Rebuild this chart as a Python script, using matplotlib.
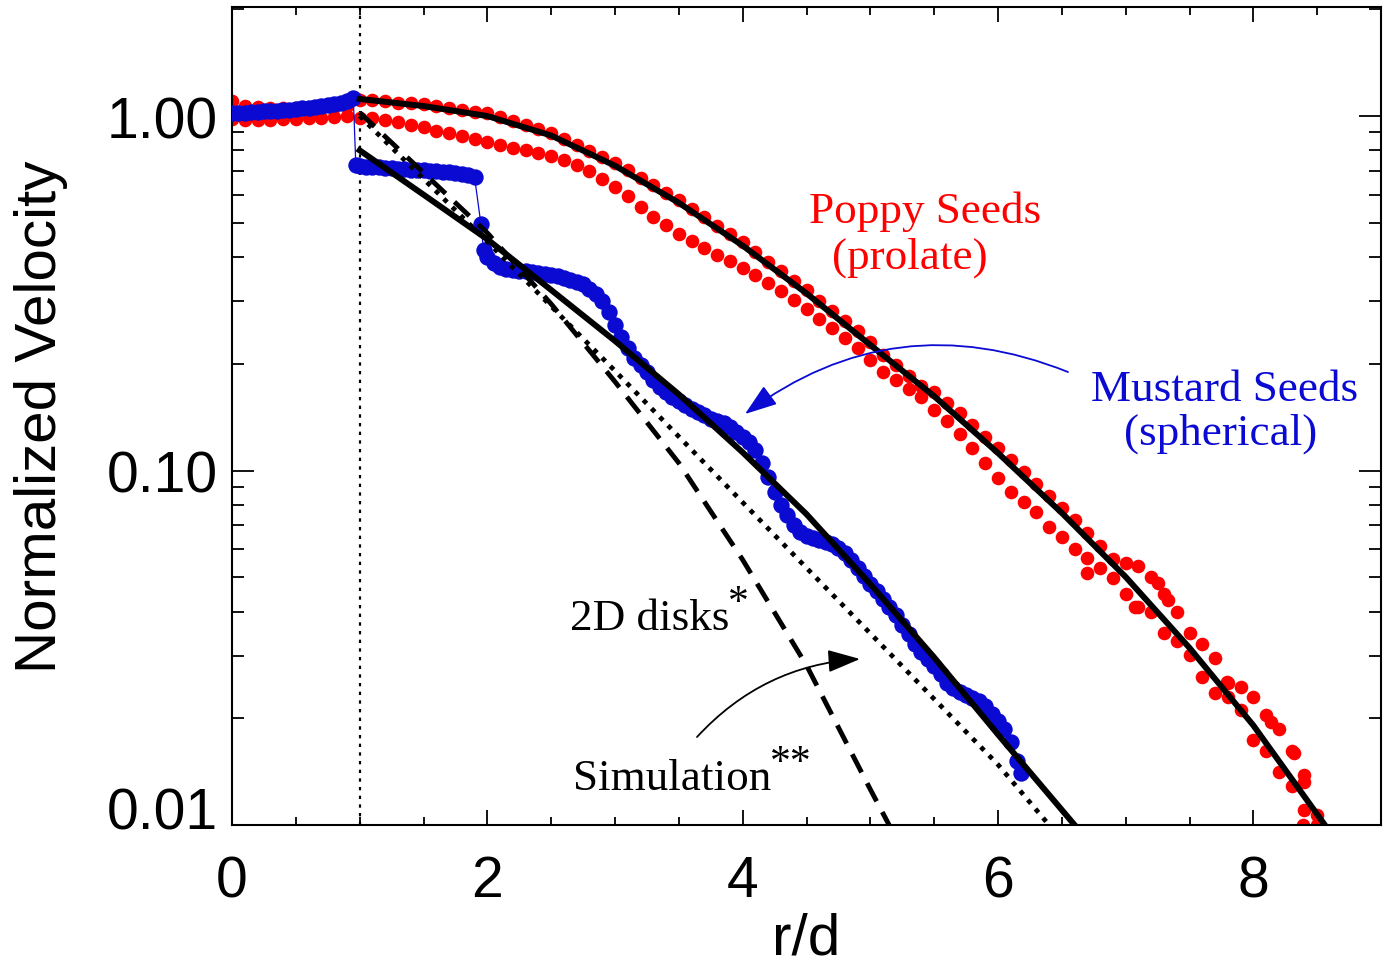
import numpy as np
import matplotlib
matplotlib.use("Agg")
import matplotlib.pyplot as plt
from matplotlib.ticker import FixedLocator, LogLocator, NullFormatter
from matplotlib.transforms import ScaledTranslation
from matplotlib.patches import FancyArrowPatch

# ---------------- data ----------------
# Poppy seeds (prolate): two runs sampled on the same r/d grid
poppy_x = [0.0, 0.1, 0.2, 0.3, 0.4, 0.5, 0.6, 0.7, 0.8, 0.9,
           1.0, 1.1, 1.2, 1.3, 1.4, 1.5, 1.6, 1.7, 1.8, 1.9,
           2.0, 2.1, 2.2, 2.3, 2.4, 2.5, 2.6, 2.7, 2.8, 2.9,
           3.0, 3.1, 3.2, 3.3, 3.4, 3.5, 3.6, 3.7, 3.8, 3.9,
           4.0, 4.1, 4.2, 4.3, 4.4, 4.5, 4.6, 4.7, 4.8, 4.9,
           5.0, 5.1, 5.2, 5.3, 5.4, 5.5, 5.6, 5.7, 5.8, 5.9,
           6.0, 6.1, 6.2, 6.3, 6.4, 6.5, 6.6, 6.7, 6.8, 6.9,
           7.0, 7.1, 7.2, 7.3, 7.4, 7.5, 7.6, 7.7, 7.8, 7.9,
           8.0, 8.1, 8.2, 8.3, 8.4, 8.5]
poppy_run1 = [1.10, 1.07, 1.06, 1.05, 1.05, 1.05, 1.05, 1.05, 1.06, 1.07,
              1.11, 1.11, 1.10, 1.09, 1.085, 1.08, 1.065, 1.05, 1.038, 1.025,
              1.019, 0.993, 0.968, 0.944, 0.920, 0.897, 0.863, 0.830, 0.798, 0.767,
              0.738, 0.703, 0.670, 0.638, 0.608, 0.579, 0.548, 0.519, 0.491, 0.465,
              0.440, 0.413, 0.388, 0.365, 0.343, 0.322, 0.301, 0.282, 0.264, 0.247,
              0.231, 0.212, 0.198, 0.185, 0.173, 0.166, 0.155, 0.145, 0.134, 0.124,
              0.116, 0.107, 0.0993, 0.0918, 0.0849, 0.0785, 0.0723, 0.0665, 0.0612, 0.0564,
              0.0550, 0.0537, 0.0501, 0.0447, 0.0398, 0.0347, 0.0324, 0.0295, 0.0251, 0.0245,
              0.0229, 0.0204, 0.0186, 0.0162, 0.0138, 0.0107]
poppy_run2 = [0.98, 0.975, 0.975, 0.975, 0.98, 0.98, 0.985, 0.99, 0.995, 1.0,
              0.99, 0.985, 0.975, 0.96, 0.945, 0.93, 0.91, 0.893, 0.876, 0.86,
              0.845, 0.83, 0.815, 0.80, 0.785, 0.77, 0.75, 0.728, 0.70, 0.665,
              0.63, 0.595, 0.555, 0.52, 0.492, 0.466, 0.445, 0.425, 0.405, 0.39,
              0.373, 0.355, 0.337, 0.32, 0.302, 0.285, 0.268, 0.252, 0.237, 0.222,
              0.205, 0.19, 0.18, 0.17, 0.161, 0.148, 0.138, 0.127, 0.116, 0.105,
              0.095, 0.087, 0.0815, 0.0765, 0.0695, 0.065, 0.060, 0.0565, 0.053, 0.0497,
              0.0447, 0.0412, 0.0398, 0.0347, 0.0331, 0.0302, 0.0261, 0.0235, 0.0229, 0.0211,
              0.0174, 0.0162, 0.0141, 0.0129, 0.0110, 0.0100]
poppy_extra_x = [6.70, 7.07, 7.25, 7.33, 7.79, 8.14, 8.32, 8.40, 8.39]
poppy_extra_v = [0.0515, 0.0413, 0.0483, 0.0432, 0.0253, 0.0195, 0.0160, 0.0132, 0.0100]

# Mustard seeds (spherical)
mustard_x = [0.0, 0.05, 0.1, 0.15, 0.2, 0.25, 0.3, 0.35, 0.4, 0.45,
             0.5, 0.55, 0.6, 0.65, 0.7, 0.75, 0.8, 0.85, 0.9, 0.95,
             0.97, 1.0, 1.05, 1.1, 1.15, 1.2, 1.25, 1.3, 1.35, 1.4,
             1.45, 1.5, 1.55, 1.6, 1.65, 1.7, 1.75, 1.8, 1.85, 1.9,
             1.95, 1.97, 2.0, 2.05, 2.1, 2.15, 2.2, 2.25, 2.3, 2.35,
             2.4, 2.45, 2.5, 2.55, 2.6, 2.65, 2.7, 2.75, 2.8, 2.85,
             2.9, 2.95, 3.0, 3.05, 3.1, 3.15, 3.2, 3.25, 3.3, 3.35,
             3.4, 3.45, 3.5, 3.55, 3.6, 3.65, 3.7, 3.75, 3.8, 3.85,
             3.9, 3.95, 4.0, 4.05, 4.1, 4.15, 4.2, 4.25, 4.3, 4.35,
             4.4, 4.45, 4.5, 4.55, 4.6, 4.65, 4.7, 4.75, 4.8, 4.85,
             4.9, 4.95, 5.0, 5.05, 5.1, 5.15, 5.2, 5.25, 5.3, 5.35,
             5.4, 5.45, 5.5, 5.55, 5.6, 5.65, 5.7, 5.75, 5.8, 5.85,
             5.9, 5.95, 6.0, 6.05, 6.1, 6.15, 6.18]
mustard_v = [1.02, 1.02, 1.022, 1.025, 1.027, 1.03, 1.033, 1.036, 1.04, 1.043,
             1.047, 1.05, 1.055, 1.06, 1.066, 1.072, 1.08, 1.09, 1.105, 1.125,
             0.728, 0.722, 0.72, 0.718, 0.716, 0.714, 0.712, 0.71, 0.708, 0.706,
             0.704, 0.702, 0.70, 0.698, 0.696, 0.693, 0.69, 0.686, 0.68, 0.672,
             0.495, 0.42, 0.40, 0.385, 0.375, 0.37, 0.368, 0.366, 0.365, 0.363,
             0.36, 0.358, 0.355, 0.353, 0.35, 0.345, 0.34, 0.335, 0.325, 0.315,
             0.30, 0.28, 0.258, 0.238, 0.222, 0.208, 0.199, 0.189, 0.18, 0.172,
             0.166, 0.161, 0.157, 0.153, 0.149, 0.146, 0.143, 0.14, 0.138, 0.136,
             0.133, 0.128, 0.124, 0.12, 0.114, 0.105, 0.096, 0.087, 0.08, 0.075,
             0.07, 0.067, 0.0655, 0.0645, 0.0638, 0.063, 0.062, 0.0605, 0.0585, 0.056,
             0.053, 0.0505, 0.048, 0.0457, 0.0435, 0.0412, 0.039, 0.0366, 0.0345, 0.0325,
             0.0307, 0.0293, 0.028, 0.0266, 0.0252, 0.0243, 0.0237, 0.0232, 0.0228, 0.0224,
             0.0216, 0.0206, 0.0196, 0.0186, 0.0172, 0.0152, 0.0140]

# Fitted curves
poppy_fit_x = [1.0, 1.5, 2.0, 2.5, 3.0, 3.5, 4.0, 4.5, 5.0, 5.5, 6.0, 6.5, 7.0, 7.5, 8.0, 8.56]
poppy_fit_v = [1.117, 1.067, 1.0, 0.881, 0.724, 0.569, 0.431, 0.316, 0.226, 0.162,
               0.112, 0.0759, 0.0501, 0.0316, 0.0191, 0.010]
mustard_fit_x = [1.0, 1.5, 2.0, 2.5, 3.0, 3.5, 4.0, 4.5, 5.0, 5.5, 6.0, 6.6]
mustard_fit_v = [0.80, 0.60, 0.449, 0.323, 0.232, 0.164, 0.1125, 0.0753, 0.0478, 0.0297, 0.018, 0.010]

# 2D disks (dashed) and simulation (dotted)
disks_x = [1.0, 1.5, 2.0, 2.5, 3.0, 3.5, 4.0, 4.5, 5.0, 5.16]
disks_v = [1.023, 0.692, 0.468, 0.295, 0.178, 0.105, 0.056, 0.0282, 0.0126, 0.0098]
sim_x = [1.0, 2.0, 3.0, 4.0, 5.0, 6.0, 6.4]
sim_v = [1.0, 0.442, 0.191, 0.0813, 0.0347, 0.0148, 0.010]

x_major = [0, 2, 4, 6, 8]
x_minor = [0.5, 1, 1.5, 2.5, 3, 3.5, 4.5, 5, 5.5, 6.5, 7, 7.5, 8.5]
y_major = [0.01, 0.1, 1.0]
y_labels = ["0.01", "0.10", "1.00"]
x_labels = ["0", "2", "4", "6", "8"]

# ---------------- figure ----------------
RED = "#ff0000"
BLUE = "#0a0ad2"
SANS = "Liberation Sans"
SERIF = "Liberation Serif"
plt.rcParams["font.family"] = SANS

W, H = 1390, 970
fig = plt.figure(figsize=(W / 100, H / 100), dpi=100, facecolor="white")
ax = fig.add_axes([232 / W, 1 - 826 / H, (1381 - 232) / W, (826 - 8) / H])
ax.set_yscale("log")
ax.set_xlim(0, 9)
ax.set_ylim(0.01, 2.03)

# vertical reference at r/d = 1
ax.axvline(1.0, color="black", lw=1.6, ls=(0, (1.5, 2.4)), zorder=1.5)

ax.plot(poppy_x, poppy_run1, "o", color=RED, ms=9.8, mec="none", zorder=2)
ax.plot(poppy_x, poppy_run2, "o", color=RED, ms=9.8, mec="none", zorder=2)
ax.plot(poppy_extra_x, poppy_extra_v, "o", color=RED, ms=9.8, mec="none", zorder=2)

ax.plot(mustard_x, mustard_v, "-", color=BLUE, lw=0.9, zorder=3)
ax.plot(mustard_x, mustard_v, "o", color=BLUE, ms=11.8, mec="none", zorder=3)

ax.plot(poppy_fit_x, poppy_fit_v, "-", color="black", lw=4.3, zorder=4)
ax.plot(mustard_fit_x, mustard_fit_v, "-", color="black", lw=4.3, zorder=4)
ax.plot(disks_x, disks_v, color="black", lw=3.5, ls=(0, (4.2, 2.5)), zorder=4)
ax.plot(sim_x, sim_v, color="black", lw=3.4, ls=(0, (1, 1.5)), zorder=4,
        dash_capstyle="butt")

# ticks
ax.xaxis.set_major_locator(FixedLocator(x_major))
ax.xaxis.set_minor_locator(FixedLocator(x_minor))
ax.set_xticklabels(x_labels)
ax.yaxis.set_major_locator(FixedLocator(y_major))
ax.yaxis.set_minor_locator(LogLocator(base=10, subs=np.arange(2, 10)))
ax.yaxis.set_minor_formatter(NullFormatter())
ax.set_yticklabels(y_labels)

ax.tick_params(axis="both", which="both", direction="in", top=True, right=True,
               width=1.3, color="black")
ax.tick_params(axis="x", which="major", length=11, pad=21, labelsize=41)
ax.tick_params(axis="x", which="minor", length=5.5)
ax.tick_params(axis="y", which="major", length=16, pad=10, labelsize=41)
ax.tick_params(axis="y", which="minor", length=8.5)
for sp in ax.spines.values():
    sp.set_linewidth(1.5)

# lift the bottom label so it sits on the axis line
for lab in ax.get_yticklabels():
    if lab.get_text() == "0.01":
        lab.set_transform(lab.get_transform() +
                          ScaledTranslation(0, 0.17, fig.dpi_scale_trans))

ax.set_xlabel("r/d", fontsize=42)
ax.xaxis.set_label_coords(0.5, -0.106)
ax.set_ylabel("Normalized Velocity", fontsize=42)
ax.yaxis.set_label_coords(-0.143, 0.5)


def fpos(x, y):
    return (x / W, 1 - y / H)


def ipos(x, y):
    return (x / 100, (H - y) / 100)


# annotations
fig.text(*fpos(925, 223), "Poppy Seeds", color=RED, fontsize=32.5,
         family=SERIF, ha="center", va="baseline")
fig.text(*fpos(910, 269), "(prolate)", color=RED, fontsize=32.5,
         family=SERIF, ha="center", va="baseline")
fig.text(*fpos(1225, 401), "Mustard Seeds", color=BLUE, fontsize=32.5,
         family=SERIF, ha="center", va="baseline")
fig.text(*fpos(1221, 445), "(spherical)", color=BLUE, fontsize=32.5,
         family=SERIF, ha="center", va="baseline")
fig.text(*fpos(570, 630), "2D disks", color="black", fontsize=32.5,
         family=SERIF, ha="left", va="baseline")
fig.text(*fpos(728, 614), "*", color="black", fontsize=30,
         family=SERIF, ha="left", va="baseline")
fig.text(*fpos(573, 790), "Simulation", color="black", fontsize=32.5,
         family=SERIF, ha="left", va="baseline")
fig.text(*fpos(770, 774), "**", color="black", fontsize=30,
         family=SERIF, ha="left", va="baseline")

arrow_blue = FancyArrowPatch(ipos(1068, 373), ipos(745, 415),
                             transform=fig.dpi_scale_trans,
                             connectionstyle="arc3,rad=0.28",
                             arrowstyle="-|>,head_length=1.0,head_width=0.35",
                             mutation_scale=20, lw=1.3, color=BLUE,
                             shrinkA=0, shrinkB=0)
fig.add_artist(arrow_blue)
arrow_black = FancyArrowPatch(ipos(697, 738), ipos(860, 660),
                              transform=fig.dpi_scale_trans,
                              connectionstyle="arc3,rad=-0.2",
                              arrowstyle="-|>,head_length=1.0,head_width=0.35",
                              mutation_scale=20, lw=1.3, color="black",
                              shrinkA=0, shrinkB=0)
fig.add_artist(arrow_black)

fig.savefig("out.png", dpi=100, facecolor="white")
